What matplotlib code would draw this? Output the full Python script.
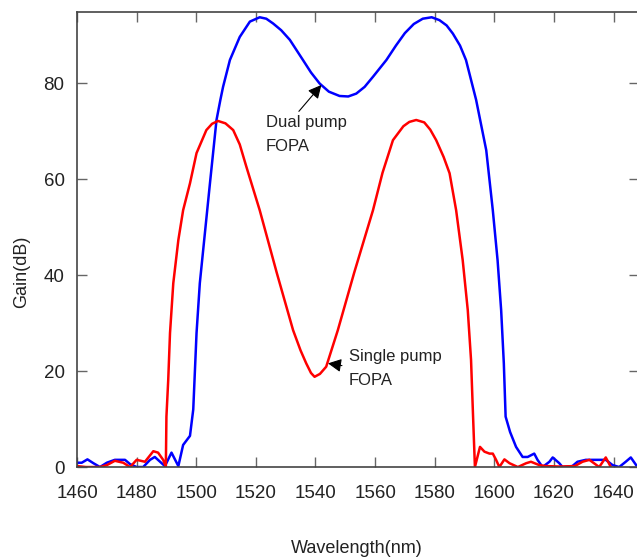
import matplotlib
matplotlib.use('Agg')
import matplotlib.pyplot as plt

# Dual pump FOPA gain (blue)
dual_wl = [1460.1, 1461.6, 1463.5, 1465.5, 1467.7, 1470.0, 1472.7, 1476.1, 1477.8, 1480.0,
           1482.2, 1484.5, 1486.1, 1488.4, 1489.5, 1491.7, 1494.0, 1495.6, 1497.9, 1499.0,
           1500.1, 1501.2, 1502.9, 1504.6, 1506.8, 1508.1, 1509.0, 1511.3, 1514.6, 1518.0,
           1521.3, 1523.5, 1525.8, 1528.5, 1531.4, 1535.8, 1538.5, 1541.4, 1544.5, 1548.1,
           1551.0, 1553.7, 1556.5, 1559.3, 1563.8, 1567.0, 1570.0, 1573.0, 1576.0, 1579.0,
           1581.6, 1584.0, 1586.1, 1588.5, 1590.5, 1593.9, 1597.3, 1599.5, 1601.1, 1602.3,
           1603.2, 1603.8, 1605.3, 1607.3, 1609.5, 1611.2, 1613.4, 1614.5, 1616.2, 1618.5,
           1619.6, 1621.8, 1622.9, 1626.2, 1627.9, 1630.7, 1637.4, 1639.7, 1641.9, 1644.1,
           1645.8, 1647.6]
dual_gain = [0.9, 0.9, 1.6, 0.8, 0.0, 0.9, 1.5, 1.5, 0.6, 0.0,
             0.0, 1.5, 2.1, 0.8, 0.2, 3.0, 0.2, 4.6, 6.5, 12.0,
             27.9, 38.3, 48.7, 59.1, 72.3, 76.5, 79.2, 84.8, 89.6, 92.8,
             93.7, 93.4, 92.4, 91.0, 89.0, 84.8, 82.2, 79.9, 78.2, 77.3,
             77.2, 77.8, 79.2, 81.3, 84.8, 87.8, 90.4, 92.3, 93.4, 93.7,
             93.1, 92.0, 90.3, 87.8, 84.8, 76.5, 66.0, 53.5, 43.1, 32.7,
             21.6, 10.5, 7.3, 4.2, 2.1, 2.1, 2.8, 1.5, 0.0, 1.1,
             2.0, 0.8, 0.0, 0.2, 1.1, 1.5, 1.5, 0.4, 0.0, 1.1,
             2.0, 0.4]

# Single pump FOPA gain (red)
single_wl = [1460.0, 1463.0, 1467.7, 1470.0, 1472.7, 1475.5, 1477.8, 1480.0, 1482.8, 1485.6,
             1487.2, 1488.9, 1489.8, 1490.0, 1490.6, 1491.2, 1492.3, 1494.0, 1495.6, 1497.9,
             1500.1, 1503.4, 1505.3, 1507.3, 1509.8, 1512.4, 1514.6, 1516.8, 1521.3, 1527.0,
             1532.5, 1535.0, 1536.9, 1538.5, 1539.7, 1541.5, 1543.6, 1547.5, 1553.0, 1559.3,
             1562.5, 1566.0, 1569.5, 1571.5, 1573.8, 1576.5, 1578.5, 1580.5, 1583.0, 1585.0,
             1587.2, 1589.4, 1591.1, 1592.2, 1592.8, 1593.5, 1595.2, 1596.7, 1598.4, 1599.5,
             1600.6, 1601.7, 1603.4, 1605.1, 1607.9, 1610.7, 1612.3, 1615.1, 1617.3, 1622.0,
             1627.0, 1629.6, 1631.9, 1635.2, 1637.4, 1639.1]
single_gain = [0.2, 0.0, 0.0, 0.4, 1.3, 0.9, 0.0, 1.5, 1.1, 3.3,
               3.0, 1.5, 0.0, 10.5, 18.1, 27.9, 38.3, 47.3, 53.5, 59.1,
               65.4, 70.2, 71.5, 72.1, 71.6, 70.2, 67.2, 62.6, 53.5, 40.5,
               28.5, 24.3, 21.6, 19.6, 18.8, 19.4, 20.9, 28.5, 40.5, 53.5,
               61.3, 68.1, 71.0, 71.9, 72.3, 71.8, 70.3, 68.1, 64.6, 61.2,
               53.5, 43.1, 32.7, 22.3, 11.9, 0.0, 4.2, 3.2, 2.8, 2.8,
               1.5, 0.0, 1.6, 0.8, 0.0, 0.8, 1.1, 0.4, 0.2, 0.1,
               0.2, 1.1, 1.5, 0.0, 2.0, 0.0]

x_ticks = [1460, 1480, 1500, 1520, 1540, 1560, 1580, 1600, 1620, 1640]
y_ticks = [0, 20, 40, 60, 80]

font = ['Liberation Sans', 'DejaVu Sans']

fig = plt.figure(figsize=(6.37, 5.6), dpi=100)
ax = fig.add_axes([0.1209, 0.166, 0.882, 0.8126])

ax.plot(dual_wl, dual_gain, color='#0000ff', lw=1.8)
ax.plot(single_wl, single_gain, color='#ff0000', lw=1.8)

ax.set_xlim(1460, 1648.5)
ax.set_ylim(0, 94.8)
ax.set_xticks(x_ticks)
ax.set_yticks(y_ticks)

for s in ax.spines.values():
    s.set_color('#444444')
    s.set_linewidth(1.2)

ax.tick_params(direction='in', length=7, width=1, color='#666666',
               top=True, right=True, labelsize=13.5, labelcolor='#222222')
ax.tick_params(axis='x', pad=13)
ax.tick_params(axis='y', pad=9)
for lab in ax.get_xticklabels() + ax.get_yticklabels():
    lab.set_family(font)

ax.set_xlabel('Wavelength(nm)', family=font, fontsize=13, color='#222222')
ax.xaxis.set_label_coords(0.498, -0.16)
ax.set_ylabel('Gain(dB)', family=font, fontsize=13, color='#222222')
ax.yaxis.set_label_coords(-0.084, 0.43)

ax.annotate('Dual pump\nFOPA', xy=(1542, 79.6), xytext=(1523.3, 73.3),
            fontsize=12, family=font, color='#222222', va='top', ha='left',
            linespacing=1.7,
            arrowprops=dict(arrowstyle='-|>', color='black', lw=0.8,
                            mutation_scale=20, shrinkA=1, shrinkB=0,
                            relpos=(0.37, 1.0)))

ax.annotate('Single pump\nFOPA', xy=(1544.2, 21.6), xytext=(1551.2, 24.5),
            fontsize=12, family=font, color='#222222', va='top', ha='left',
            linespacing=1.7,
            arrowprops=dict(arrowstyle='-|>', color='black', lw=0.8,
                            mutation_scale=20, shrinkA=3, shrinkB=0,
                            relpos=(0, 0.55)))

fig.savefig('out.png', dpi=100)
